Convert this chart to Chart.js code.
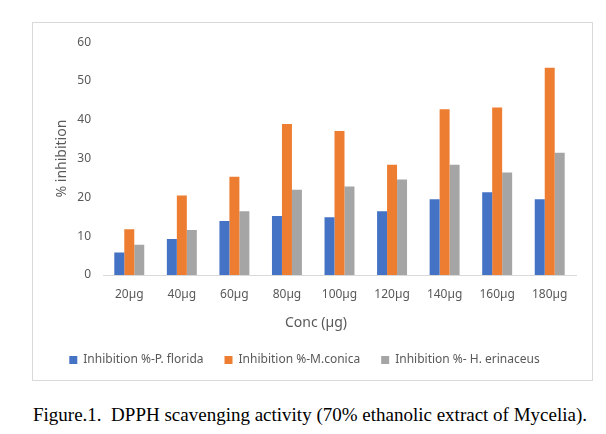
<!DOCTYPE html>
<html>
<head>
<meta charset="utf-8">
<script src="https://cdn.jsdelivr.net/npm/chart.js@4.4.1/dist/chart.umd.min.js"></script>
<style>
  html, body { margin: 0; padding: 0; background: #fff; width: 606px; height: 434px; overflow: hidden; }
  #frame { position: absolute; left: 32px; top: 22px; width: 559px; height: 357px; border: 1px solid #d9d9d9; background: #fff; }
  #c { display: block; }
  #caption { position: absolute; left: 33px; top: 404px; font-family: "Liberation Serif", "Times New Roman", serif; font-size: 19px; color: #000; white-space: pre; line-height: 22px; }
</style>
</head>
<body>
<div id="frame"><canvas id="c" width="559" height="357"></canvas></div>
<div id="caption"></div>
<script>
const categories = ["20µg", "40µg", "60µg", "80µg", "100µg", "120µg", "140µg", "160µg", "180µg"];
const seriesNames = ["Inhibition %-P. florida", "Inhibition %-M.conica", "Inhibition %- H. erinaceus"];
const pFlorida = [5.8, 9.3, 13.9, 15.2, 14.9, 16.4, 19.5, 21.3, 19.5];
const mConica = [11.8, 20.5, 25.3, 38.9, 37.1, 28.4, 42.7, 43.2, 53.4];
const hErinaceus = [7.8, 11.6, 16.4, 22.0, 22.8, 24.6, 28.4, 26.4, 31.5];
const yTicks = [0, 10, 20, 30, 40, 50, 60];
const xTitle = "Conc (µg)";
const yTitle = "% inhibition";
const captionText = "Figure.1.  DPPH scavenging activity (70% ethanolic extract of Mycelia).";

document.getElementById('caption').textContent = captionText;

const colors = ["#4472C4", "#ED7D31", "#A5A5A5"];
const textColor = "#595959";
const fontFamily = "'Noto Sans', 'Open Sans', sans-serif";

const xTitlePlugin = {
  id: 'xTitlePlugin',
  afterDraw(chart) {
    const ctx = chart.ctx;
    ctx.save();
    ctx.font = "14px " + fontFamily;
    ctx.fillStyle = textColor;
    ctx.textAlign = 'center';
    ctx.textBaseline = 'middle';
    ctx.fillText(xTitle, 283, 300);
    ctx.restore();
  }
};

new Chart(document.getElementById('c'), {
  type: 'bar',
  data: {
    labels: categories,
    datasets: [
      { label: seriesNames[0], data: pFlorida, backgroundColor: colors[0] },
      { label: seriesNames[1], data: mConica, backgroundColor: colors[1] },
      { label: seriesNames[2], data: hErinaceus, backgroundColor: colors[2] }
    ]
  },
  options: {
    responsive: false,
    animation: false,
    devicePixelRatio: 1,
    layout: { padding: { left: 0, right: 16, top: 12, bottom: 4 } },
    datasets: { bar: { categoryPercentage: 0.57, barPercentage: 1.0 } },
    plugins: {
      legend: {
        position: 'bottom',
        labels: {
          boxWidth: 8, boxHeight: 8, padding: 21,
          color: textColor,
          font: { family: fontFamily, size: 12 }
        }
      },
      tooltip: { enabled: false }
    },
    scales: {
      x: {
        grid: { display: false, drawTicks: false },
        border: { display: true, color: '#d9d9d9', width: 1 },
        ticks: { color: textColor, font: { family: fontFamily, size: 12 }, padding: 12, maxRotation: 0, autoSkip: false },
        afterFit(scale) { scale.height = 58; }
      },
      y: {
        min: 0, max: 60,
        afterBuildTicks(scale) { scale.ticks = yTicks.map(v => ({ value: v })); },
        grid: { display: false, drawTicks: false },
        border: { display: false },
        ticks: { color: textColor, font: { family: fontFamily, size: 12 }, padding: 12 },
        title: { display: true, text: yTitle, color: textColor, font: { family: fontFamily, size: 14 }, padding: { top: 21, bottom: 0 } },
        afterFit(scale) { scale.width = 70; }
      }
    }
  },
  plugins: [xTitlePlugin]
});
</script>
</body>
</html>
